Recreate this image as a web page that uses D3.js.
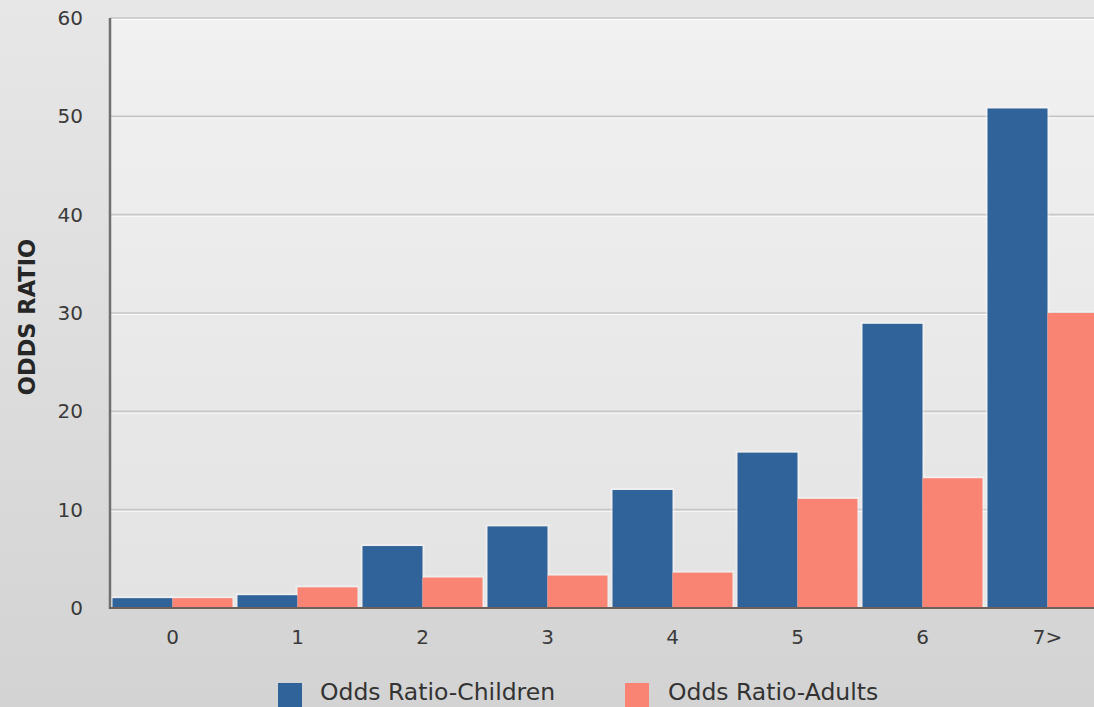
<!DOCTYPE html>
<html>
<head>
<meta charset="utf-8">
<script src="https://cdn.jsdelivr.net/npm/d3@7"></script>
<style>
  html, body { margin: 0; padding: 0; overflow: hidden; }
  svg { display: block; }
</style>
</head>
<body>
<svg id="chart" width="1094" height="707"></svg>
<script>
// Odds ratio by number of risk factors, children vs adults
const categories = ["0", "1", "2", "3", "4", "5", "6", "7>"];
const childrenValues = [1.0, 1.3, 6.3, 8.3, 12.0, 15.8, 28.9, 50.8];
const adultsValues = [1.0, 2.1, 3.1, 3.3, 3.6, 11.1, 13.2, 30.0];
const seriesNames = ["Odds Ratio-Children", "Odds Ratio-Adults"];
const seriesColors = ["#2f6399", "#fa8473"];
const yTicks = [0, 10, 20, 30, 40, 50, 60];
const yTitle = "ODDS RATIO";

const W = 1094, H = 707;
const plot = { left: 110, right: 1110, top: 18, bottom: 608 };

const svg = d3.select("#chart");
const defs = svg.append("defs");

const bgGrad = defs.append("linearGradient").attr("id", "bgGrad")
  .attr("x1", 0).attr("y1", 0).attr("x2", 0).attr("y2", 1);
bgGrad.append("stop").attr("offset", "0%").attr("stop-color", "#e7e7e7");
bgGrad.append("stop").attr("offset", "100%").attr("stop-color", "#d3d3d3");

const plotGrad = defs.append("linearGradient").attr("id", "plotGrad")
  .attr("x1", 0).attr("y1", 0).attr("x2", 0).attr("y2", 1);
plotGrad.append("stop").attr("offset", "0%").attr("stop-color", "#f1f1f1");
plotGrad.append("stop").attr("offset", "100%").attr("stop-color", "#e3e3e3");

svg.append("rect").attr("width", W).attr("height", H).attr("fill", "url(#bgGrad)");

const x = d3.scaleBand()
  .domain(categories)
  .range([plot.left, plot.right])
  .paddingInner(0.04)
  .paddingOuter(0.02);

const xSub = d3.scaleBand()
  .domain(seriesNames)
  .range([0, x.bandwidth()]);

const y = d3.scaleLinear().domain([0, 60]).range([plot.bottom, plot.top]);

// plot panel
svg.append("rect")
  .attr("x", plot.left).attr("y", y(60))
  .attr("width", plot.right - plot.left).attr("height", y(0) - y(60))
  .attr("fill", "url(#plotGrad)");

// embossed gridlines
const grid = svg.append("g");
yTicks.filter(t => t > 0).forEach(t => {
  grid.append("line")
    .attr("x1", plot.left).attr("x2", plot.right)
    .attr("y1", y(t) + 1.5).attr("y2", y(t) + 1.5)
    .attr("stroke", "#ffffff").attr("stroke-width", 1.2).attr("opacity", 0.8);
  grid.append("line")
    .attr("x1", plot.left).attr("x2", plot.right)
    .attr("y1", y(t)).attr("y2", y(t))
    .attr("stroke", "#c6c6c6").attr("stroke-width", 1.6);
});

// bar data
const rows = categories.map((c, i) => ({
  category: c,
  values: [
    { series: seriesNames[0], value: childrenValues[i], color: seriesColors[0] },
    { series: seriesNames[1], value: adultsValues[i], color: seriesColors[1] }
  ]
}));

const groups = svg.append("g").selectAll("g")
  .data(rows).join("g")
  .attr("transform", d => `translate(${x(d.category)},0)`);

// soft light halo behind bars
groups.selectAll("rect.halo")
  .data(d => d.values).join("rect")
  .attr("class", "halo")
  .attr("x", d => xSub(d.series) - 2)
  .attr("y", d => y(d.value) - 2)
  .attr("width", xSub.bandwidth() + 4)
  .attr("height", d => y(0) - y(d.value) + 2)
  .attr("fill", "#ffffff").attr("opacity", 0.35);

groups.selectAll("rect.bar")
  .data(d => d.values).join("rect")
  .attr("class", "bar")
  .attr("x", d => xSub(d.series))
  .attr("y", d => y(d.value))
  .attr("width", xSub.bandwidth())
  .attr("height", d => y(0) - y(d.value))
  .attr("fill", d => d.color);

// axis lines
svg.append("line")
  .attr("x1", plot.left).attr("x2", plot.left)
  .attr("y1", y(60)).attr("y2", y(0) + 1)
  .attr("stroke", "#707070").attr("stroke-width", 2.5);
svg.append("line")
  .attr("x1", plot.left - 1).attr("x2", plot.right)
  .attr("y1", y(0)).attr("y2", y(0))
  .attr("stroke", "#6e5f5b").attr("stroke-width", 2.2);

const font = "'DejaVu Sans', sans-serif";

// y axis labels
const yAxis = svg.append("g")
  .attr("transform", `translate(${plot.left},0)`)
  .call(d3.axisLeft(y).tickValues(yTicks).tickSize(0).tickPadding(27));
yAxis.select(".domain").remove();
yAxis.selectAll("text")
  .attr("font-family", font).attr("font-size", 20).attr("fill", "#3a3a3a");

// x axis labels
const xAxis = svg.append("g")
  .attr("transform", `translate(0,${plot.bottom})`)
  .call(d3.axisBottom(x).tickSize(0).tickPadding(22));
xAxis.select(".domain").remove();
xAxis.selectAll("text")
  .attr("font-family", font).attr("font-size", 20).attr("fill", "#3a3a3a");

// y axis title
svg.append("text")
  .attr("transform", `translate(35,${(y(0) + y(60)) / 2 + 4}) rotate(-90)`)
  .attr("text-anchor", "middle")
  .attr("font-family", font).attr("font-weight", "bold")
  .attr("font-size", 22.5).attr("fill", "#262626")
  .text(yTitle);

// legend
const legendPos = [{ sx: 278, tx: 320 }, { sx: 625, tx: 668 }];
const legend = svg.append("g");
seriesNames.forEach((name, i) => {
  legend.append("rect")
    .attr("x", legendPos[i].sx).attr("y", 683)
    .attr("width", 24).attr("height", 24)
    .attr("fill", seriesColors[i]);
  legend.append("text")
    .attr("x", legendPos[i].tx).attr("y", 700)
    .attr("font-family", font).attr("font-size", 23.5).attr("fill", "#333")
    .text(name);
});
</script>
</body>
</html>
